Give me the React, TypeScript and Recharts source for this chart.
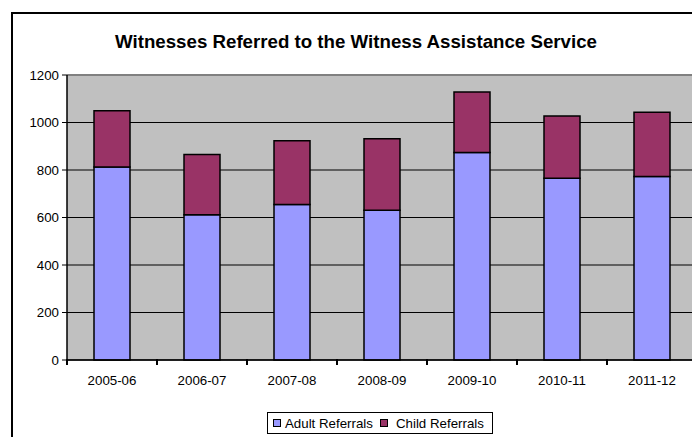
import React from 'react';
import {
  BarChart,
  Bar,
  XAxis,
  YAxis,
  CartesianGrid,
  Legend,
  ReferenceLine,
} from 'recharts';

const years = ['2005-06', '2006-07', '2007-08', '2008-09', '2009-10', '2010-11', '2011-12'];
const adultReferrals = [813, 612, 655, 631, 874, 765, 773];
const childReferrals = [237, 253, 268, 301, 254, 262, 270];
const yTicks = [0, 200, 400, 600, 800, 1000, 1200];

const data = years.map((year, i) => ({
  year,
  adult: adultReferrals[i],
  child: childReferrals[i],
}));

const FONT = '"Liberation Sans", Arial, sans-serif';

// Excel puts the category ticks between the bars, not under them
const CategoryTick = (props: any) => {
  const { x, y, payload, width, visibleTicksCount } = props;
  let half = Number(width) / Number(visibleTicksCount) / 2;
  if (!Number.isFinite(half)) half = Number(payload && payload.offset);
  if (!Number.isFinite(half)) half = 45;
  const tx = Number(x) - half;
  const ty = Number(y);
  return (
    <g>
      <rect x={tx - 1} y={ty - 8} width={2} height={6} fill="#000" />
      <text x={x} y={ty + 18} textAnchor="middle" fontSize={13.3} fontFamily={FONT} fill="#000">
        {payload.value}
      </text>
    </g>
  );
};

const LegendBox = (props: any) => {
  const items = props.payload || [];
  return (
    <div
      style={{
        boxSizing: 'border-box',
        width: 226,
        height: 22,
        border: '1px solid #000',
        background: '#fff',
        display: 'flex',
        alignItems: 'center',
        paddingLeft: 5,
        fontFamily: FONT,
        fontSize: 13.3,
        color: '#000',
      }}
    >
      {items.map((item: any, i: number) => (
        <div key={`legend-${i}`} style={{ display: 'flex', alignItems: 'center', marginRight: 7 }}>
          <span
            style={{
              display: 'inline-block',
              boxSizing: 'border-box',
              width: 8,
              height: 8,
              background: item.color,
              border: '1px solid #000',
              marginRight: i === 0 ? 4 : 8,
            }}
          />
          <span>{item.value}</span>
        </div>
      ))}
    </div>
  );
};

export default function App() {
  return (
    <div
      style={{
        position: 'absolute',
        left: 0,
        top: 0,
        width: 692,
        height: 437,
        overflow: 'hidden',
        background: '#fff',
      }}
    >
      <div
        style={{
          position: 'absolute',
          left: 11,
          top: 12,
          width: 800,
          height: 500,
          border: '2px solid #000',
        }}
      />
      <div
        style={{
          position: 'absolute',
          left: 0,
          top: 33,
          width: 712,
          textAlign: 'center',
          fontFamily: FONT,
          fontWeight: 'bold',
          fontSize: 18.7,
          lineHeight: 1,
          color: '#000',
        }}
      >
        Witnesses Referred to the Witness Assistance Service
      </div>
      <div style={{ position: 'absolute', left: 0, top: 0 }}>
        <BarChart
          width={720}
          height={437}
          data={data}
          margin={{ top: 75, right: 23, bottom: 47, left: 0 }}
          barCategoryGap="30%"
        >
          <CartesianGrid vertical={false} stroke="#000" strokeWidth={1} fill="#C0C0C0" fillOpacity={1} />
          <XAxis
            dataKey="year"
            height={30}
            axisLine={{ stroke: '#000', strokeWidth: 1.5 }}
            tickLine={false}
            tickSize={5}
            tickMargin={2}
            interval={0}
            tick={<CategoryTick />}
          />
          <YAxis
            width={67}
            domain={[0, 1200]}
            ticks={yTicks}
            interval={0}
            axisLine={{ stroke: '#000', strokeWidth: 1.5 }}
            tickLine={{ stroke: '#000' }}
            tickSize={5}
            tickMargin={3}
            tick={{ fontSize: 13.3, fontFamily: FONT, fill: '#000' }}
          />
          <ReferenceLine y={1200} stroke="#808080" strokeWidth={2} />
          <Bar dataKey="adult" name="Adult Referrals" stackId="a" fill="#9999FF" stroke="#000" strokeWidth={1.5} isAnimationActive={false} />
          <Bar dataKey="child" name="Child Referrals" stackId="a" fill="#993366" stroke="#000" strokeWidth={1.5} isAnimationActive={false} />
          <Legend
            layout="horizontal"
            verticalAlign="middle"
            align="center"
            content={<LegendBox />}
            wrapperStyle={{ left: 267, top: 412, width: 226, height: 22 }}
          />
        </BarChart>
      </div>
    </div>
  );
}
